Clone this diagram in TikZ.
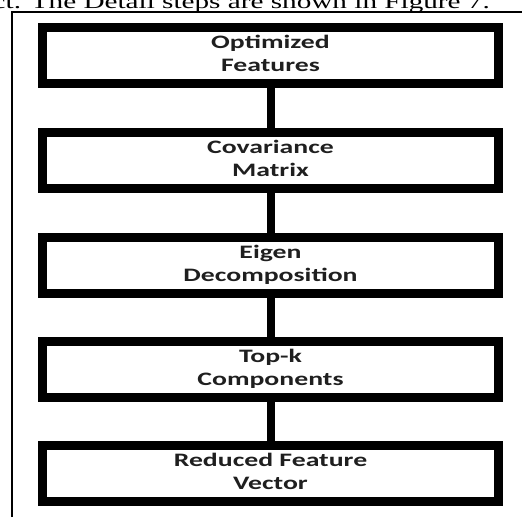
\documentclass[tikz,border=0pt]{standalone}
\usepackage{fontspec}
\usepackage{graphicx}
\newfontfamily\boxfont{Carlito}
\newfontfamily\capfont{Liberation Serif}
\newcommand{\wide}[1]{\scalebox{1.46}[1]{\begin{tabular}{@{}c@{}}#1\end{tabular}}}
\begin{document}
\begin{tikzpicture}[x=1pt,y=-1pt,
  stepbox/.style={draw=black, line width=9pt, minimum width=456pt, minimum height=56pt,
    inner sep=0pt, font=\boxfont\bfseries\fontsize{19}{23}\selectfont, text=black!88},
  link/.style={line width=8pt, draw=black},
  frameline/.style={line width=1.8pt, draw=black}]
\useasboundingbox (0,0) rectangle (522,517);
\clip (0,0) rectangle (522,517);
\node[anchor=base east, inner sep=0pt, font=\capfont\fontsize{20}{24}\selectfont] (cap) at (490,8)
  {\scalebox{1.46}[1]{correct. The Detail steps are shown in Figure 7.}};
\coordinate (fbl) at (12,517);
\coordinate (ftl) at (12,12);
\coordinate (ftr) at (522,12);
\draw[frameline] (fbl) -- (ftl) -- (ftr);
\node[stepbox] (b1) at (270.5,55) {\wide{Optimized\\Features}};
\node[stepbox] (b2) at (270.5,160) {\wide{Covariance\\Matrix}};
\node[stepbox] (b3) at (270.5,265) {\wide{Eigen\\Decomposition}};
\node[stepbox] (b4) at (270.5,369) {\wide{Top-k\\Components}};
\node[stepbox] (b5) at (270.5,473.5) {\wide{Reduced Feature\\Vector}};
\draw[link] (b1) -- (b2);
\draw[link] (b2) -- (b3);
\draw[link] (b3) -- (b4);
\draw[link] (b4) -- (b5);
\end{tikzpicture}
\end{document}
